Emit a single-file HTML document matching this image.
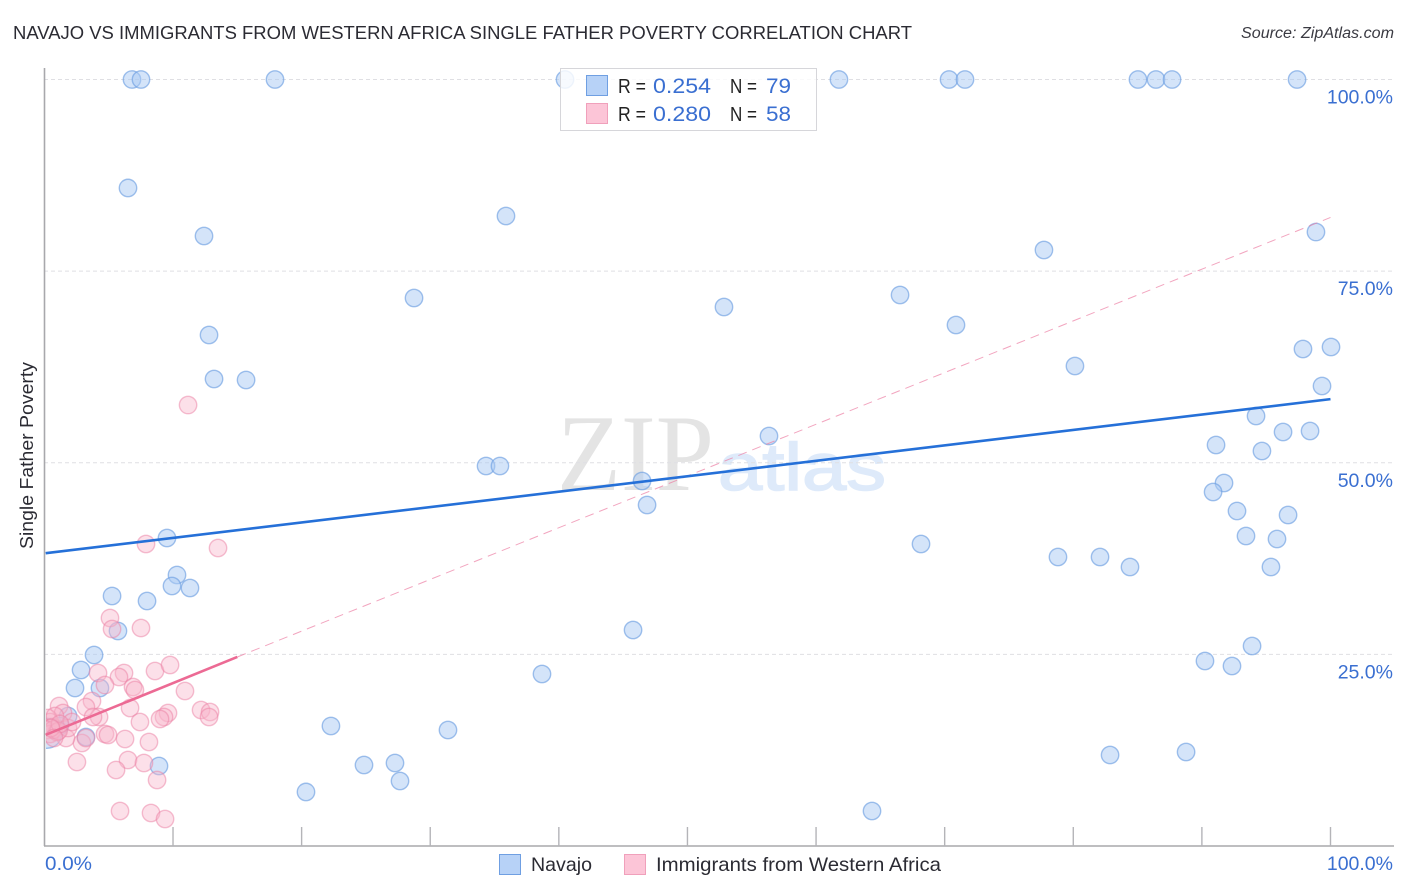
<!DOCTYPE html>
<html lang="en">
<head>
<meta charset="utf-8">
<title>Navajo vs Immigrants from Western Africa Single Father Poverty Correlation Chart</title>
<style>
html,body{margin:0;padding:0;background:#fff;width:1406px;height:892px;overflow:hidden}
svg{display:block;font-family:"Liberation Sans",sans-serif}
</style>
</head>
<body>
<svg id="chart" xmlns="http://www.w3.org/2000/svg" width="1406" height="892" viewBox="0 0 1406 892">
  <defs>
    <clipPath id="plot-clip"><rect x="46" y="60" width="1350" height="786"/></clipPath>
  </defs>
  <text x="13" y="39" font-size="18.6" fill="#2b2b33" textLength="899" lengthAdjust="spacingAndGlyphs">NAVAJO VS IMMIGRANTS FROM WESTERN AFRICA SINGLE FATHER POVERTY CORRELATION CHART</text>
  <text x="1241" y="38" font-size="15.5" font-style="italic" fill="#3a3a42" textLength="153" lengthAdjust="spacingAndGlyphs">Source: ZipAtlas.com</text>

  <g>
    <text x="557" y="490" font-family="'Liberation Serif',serif" font-size="109" fill="#e4e4e4" textLength="157" lengthAdjust="spacingAndGlyphs">ZIP</text>
    <text x="718" y="490" font-family="'Liberation Sans',sans-serif" font-size="67" fill="#deeafa" stroke="#deeafa" stroke-width="1.5" textLength="168" lengthAdjust="spacingAndGlyphs">atlas</text>
  </g>

  <g id="grid"></g>
  <g id="axes"></g>
  <g id="yticks"></g>
  <text transform="translate(33 549) rotate(-90)" font-size="18.5" fill="#2b2b33" textLength="187" lengthAdjust="spacingAndGlyphs">Single Father Poverty</text>
  <text x="45" y="870" font-size="19.5" fill="#3a6fd1" textLength="47" lengthAdjust="spacingAndGlyphs">0.0%</text>
  <text x="1393" y="870" font-size="19.5" fill="#3a6fd1" text-anchor="end">100.0%</text>

  <g id="points-navajo" clip-path="url(#plot-clip)"></g>
  <g id="points-africa" clip-path="url(#plot-clip)"></g>
  <g id="trends"></g>

  <g>
    <rect x="560.5" y="68.5" width="256" height="62" fill="#fff" fill-opacity="0.82" stroke="#d6d6da" stroke-width="1"/>
    <rect x="586.5" y="75.5" width="21" height="20" fill="#b7d2f7" stroke="#6f9fe2" stroke-width="1"/>
    <rect x="586.5" y="103.5" width="21" height="20" fill="#fcc5d7" stroke="#f0a0bb" stroke-width="1"/>
    <text x="618" y="93" font-size="20" fill="#222" textLength="28" lengthAdjust="spacingAndGlyphs">R =</text>
    <text x="653" y="93" font-size="21" fill="#3a6fd1" textLength="58" lengthAdjust="spacingAndGlyphs">0.254</text>
    <text x="730" y="93" font-size="20" fill="#222" textLength="27" lengthAdjust="spacingAndGlyphs">N =</text>
    <text x="766" y="93" font-size="21" fill="#3a6fd1" textLength="25" lengthAdjust="spacingAndGlyphs">79</text>
    <text x="618" y="121" font-size="20" fill="#222" textLength="28" lengthAdjust="spacingAndGlyphs">R =</text>
    <text x="653" y="121" font-size="21" fill="#3a6fd1" textLength="58" lengthAdjust="spacingAndGlyphs">0.280</text>
    <text x="730" y="121" font-size="20" fill="#222" textLength="27" lengthAdjust="spacingAndGlyphs">N =</text>
    <text x="766" y="121" font-size="21" fill="#3a6fd1" textLength="25" lengthAdjust="spacingAndGlyphs">58</text>
  </g>

  <g>
    <g>
      <rect x="499.5" y="854.5" width="21" height="20" fill="#b7d2f7" stroke="#6f9fe2" stroke-width="1"/>
      <text x="531" y="871" font-size="19.5" fill="#2b2b33" textLength="61" lengthAdjust="spacingAndGlyphs">Navajo</text>
    </g>
    <g>
      <rect x="624.5" y="854.5" width="21" height="20" fill="#fcc5d7" stroke="#f0a0bb" stroke-width="1"/>
      <text x="656" y="871" font-size="19.5" fill="#2b2b33" textLength="285" lengthAdjust="spacingAndGlyphs">Immigrants from Western Africa</text>
    </g>
  </g>
</svg>
<script>
const xTickValues = [0,10,20,30,40,50,60,70,80,90,100];
const yTickValues = [25,50,75,100];
const yTickLabels = ["25.0%","50.0%","75.0%","100.0%"];

const navajoX = [6.81,7.51,17.93,40.48,61.78,70.34,71.58,85.03,86.43,87.68,97.40,
  6.50,35.89,12.41,77.72,98.87,28.74,52.84,66.53,70.88,12.80,97.86,100.04,80.13,13.19,15.68,99.34,94.21,56.34,91.10,
  96.31,98.41,94.67,34.34,35.42,46.47,91.72,90.87,46.86,92.73,96.70,93.43,95.84,9.53,68.16,78.81,82.08,84.41,95.37,10.31,
  9.92,11.32,5.26,7.98,5.72,45.77,93.90,3.86,90.24,92.34,2.85,38.69,2.38,4.32,22.28,31.38,1.84,27.26,24.85,8.91,
  27.65,20.34,82.86,88.77,64.35,3.23,0.90,1.21,0.20];
const navajoY = [100,100,100,100,100,100,100,100,100,100,100,
  85.85,82.19,79.58,77.76,80.10,71.49,70.32,71.89,67.97,66.67,64.84,65.10,62.62,60.93,60.80,60.01,56.10,53.49,52.32,
  54.01,54.14,51.53,49.58,49.58,47.62,47.36,46.18,44.49,43.71,43.18,40.44,40.05,40.18,39.40,37.70,37.70,36.40,36.40,35.36,
  33.92,33.66,32.62,31.96,28.05,28.18,26.09,24.92,24.14,23.48,22.96,22.44,20.61,20.61,15.66,15.13,16.96,10.83,10.57,10.44,
  8.48,7.05,11.87,12.26,4.57,14.22,15.13,15.66,14.70];

const africaX = [5.10,5.26,7.51,4.17,6.19,5.80,8.60,9.77,4.71,6.89,7.04,10.93,3.70,1.14,3.23,6.66,12.18,12.88,12.80,9.61,
  9.30,8.99,7.43,4.25,3.78,1.45,4.71,4.95,6.27,8.13,2.92,3.23,1.68,2.53,6.50,7.74,5.57,8.76,5.88,8.29,
  9.38,7.90,13.50,11.17,0.28,0.44,0.59,0.82,0.20,0.44,0.98,0.70,1.84,2.15,1.10,1.21,0.50,0.75];
const africaY = [29.75,28.31,28.44,22.57,22.57,22.05,22.83,23.61,21.00,20.74,20.35,20.22,18.92,18.26,18.13,18.00,17.74,17.48,16.83,17.35,
  16.83,16.57,16.18,16.83,16.83,17.35,14.61,14.48,13.96,13.57,13.44,14.09,14.09,10.96,11.22,10.83,9.92,8.61,4.57,4.31,
  3.52,39.40,38.88,57.53,16.70,16.18,15.53,16.96,15.13,14.61,14.87,15.20,15.39,16.18,15.00,15.92,15.40,14.09];

const navajoTrendX = [0.1,100];
const navajoTrendY = [38.2,58.3];
const africaTrendSolidX = [0.1,15];
const africaTrendSolidY = [14.5,24.66];
const africaTrendDashX = [15,100];
const africaTrendDashY = [24.66,82];

const NS = "http://www.w3.org/2000/svg";
function xScale(v){ return 44.4 + v * 12.861; }
function yScale(v){ return 846 - v * 7.665; }
function make(tag, attrs){
  const el = document.createElementNS(NS, tag);
  for (const k in attrs) el.setAttribute(k, attrs[k]);
  return el;
}

const gridG = document.getElementById('grid');
const axesG = document.getElementById('axes');
const yTicksG = document.getElementById('yticks');

yTickValues.forEach(function(v, i){
  const line = make('line', {x1:44, x2:1394, y1:yScale(v), y2:yScale(v), stroke:'#dfdfe3', 'stroke-width':1, 'stroke-dasharray':'4 3'});
  
  
  gridG.appendChild(line);
  const label = make('text', {x:1393, y:yScale(v)+24, 'font-size':19.5, fill:'#3a6fd1', 'text-anchor':'end'});
  label.textContent = yTickLabels[i];
  
  
  yTicksG.appendChild(label);
});

const yAxisLine = make('line', {x1:44.5, x2:44.5, y1:68, y2:846, stroke:'#a8a8ac', 'stroke-width':1.6});


axesG.appendChild(yAxisLine);

const xAxisLine = make('line', {x1:44, x2:1394, y1:846, y2:846, stroke:'#a8a8ac', 'stroke-width':1.6});


axesG.appendChild(xAxisLine);

xTickValues.slice(1).forEach(function(v){
  const tick = make('line', {x1:xScale(v), x2:xScale(v), y1:827, y2:846, stroke:'#b4b4b8', 'stroke-width':1.4});
  
  
  axesG.appendChild(tick);
});

const navajoG = document.getElementById('points-navajo');
navajoX.forEach(function(v, i){
  const large = i === navajoX.length - 1;
  const c = make('circle', {cx:xScale(v), cy:yScale(navajoY[i]), r:large ? 15 : 8.7, fill:'#a9c9f4', 'fill-opacity':0.5, stroke:'#6f9fe2', 'stroke-opacity':0.65, 'stroke-width':1.4});
  
  
  navajoG.appendChild(c);
});

const africaG = document.getElementById('points-africa');
africaX.forEach(function(v, i){
  const c = make('circle', {cx:xScale(v), cy:yScale(africaY[i]), r:8.7, fill:'#f9b4ca', 'fill-opacity':0.42, stroke:'#ec7fa4', 'stroke-opacity':0.5, 'stroke-width':1.4});
  
  
  africaG.appendChild(c);
});

const trendsG = document.getElementById('trends');
const dashTrend = make('line', {x1:xScale(africaTrendDashX[0]), y1:yScale(africaTrendDashY[0]), x2:xScale(africaTrendDashX[1]), y2:yScale(africaTrendDashY[1]), stroke:'#ec7fa4', 'stroke-width':1, 'stroke-dasharray':'9 6', 'stroke-opacity':0.7});


trendsG.appendChild(dashTrend);

const africaTrend = make('line', {x1:xScale(africaTrendSolidX[0]), y1:yScale(africaTrendSolidY[0]), x2:xScale(africaTrendSolidX[1]), y2:yScale(africaTrendSolidY[1]), stroke:'#ec6a94', 'stroke-width':2.6});


trendsG.appendChild(africaTrend);

const navajoTrend = make('line', {x1:xScale(navajoTrendX[0]), y1:yScale(navajoTrendY[0]), x2:xScale(navajoTrendX[1]), y2:yScale(navajoTrendY[1]), stroke:'#2570d8', 'stroke-width':2.6});


trendsG.appendChild(navajoTrend);
</script>
</body>
</html>
